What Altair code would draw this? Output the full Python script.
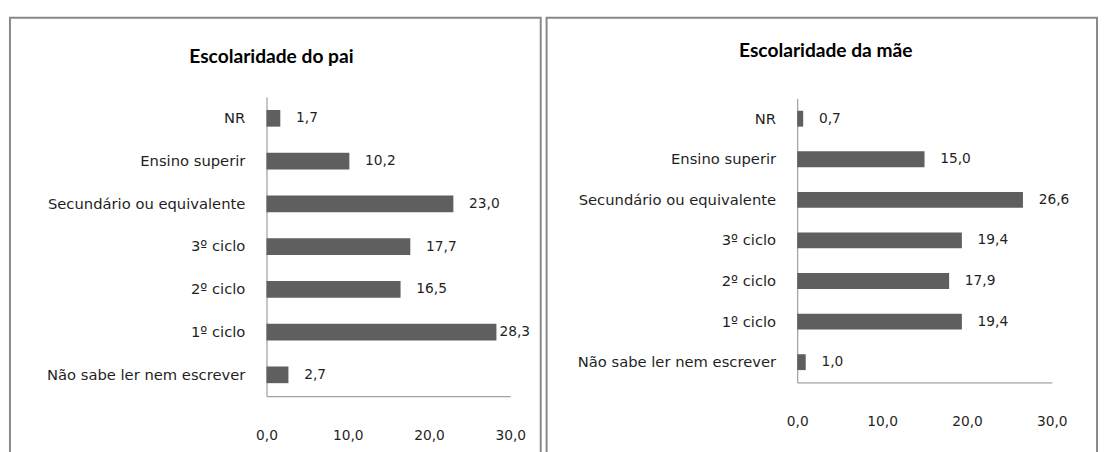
import altair as alt
import pandas as pd

categories = ["NR", "Ensino superir", "Secundário ou equivalente", "3º ciclo",
              "2º ciclo", "1º ciclo", "Não sabe ler nem escrever"]
pai_values = [1.7, 10.2, 23.0, 17.7, 16.5, 28.3, 2.7]
mae_values = [0.7, 15.0, 26.6, 19.4, 17.9, 19.4, 1.0]
x_ticks = [0, 10, 20, 30]
titles = ["Escolaridade do pai", "Escolaridade da mãe"]

FONT = "DejaVu Sans"
TITLE_FONT = "Lato"
BAR = "#5f5f5f"
TXT = "#1f1f1f"
AX = "#8a8a8a"


def fmt(v):
    return f"{v:.1f}".replace(".", ",")


def panel(values, title, W, H, xr, yr, title_offset, title_dx):
    df = pd.DataFrame({"cat": categories, "val": values,
                       "lab": [fmt(v) for v in values]})
    x = alt.X("val:Q",
              scale=alt.Scale(domain=[0, 30], range=xr, nice=False, zero=True),
              axis=alt.Axis(title=None, orient="bottom", offset=-(H - yr[1]),
                            values=x_ticks, format=".1f",
                            labelExpr="replace(datum.label, '.', ',')",
                            ticks=False, grid=False, domainColor=AX,
                            labelFlush=False, labelPadding=33,
                            labelFontSize=14, labelFont=FONT, labelColor=TXT))
    y = alt.Y("cat:N", sort=categories,
              scale=alt.Scale(range=yr, paddingInner=0.61, paddingOuter=0.305),
              axis=alt.Axis(title=None, orient="left", offset=-xr[0],
                            ticks=False, grid=False, domainColor=AX,
                            labelPadding=22, labelFontSize=15, labelFont=FONT,
                            labelColor=TXT, labelLimit=400))
    base = alt.Chart(df)
    bars = base.mark_bar(color=BAR).encode(x=x, y=y)
    enc = dict(x=alt.X("val:Q"), y=alt.Y("cat:N", sort=categories), text="lab:N")
    # labels placed outside the bar end; when it would not fit, pulled closer
    labels = base.transform_filter("datum.val <= 27").mark_text(
        align="left", baseline="middle", dx=16, fontSize=14, font=FONT,
        color=TXT).encode(**enc)
    labels_tight = base.transform_filter("datum.val > 27").mark_text(
        align="left", baseline="middle", dx=3, fontSize=14, font=FONT,
        color=TXT).encode(**enc)
    return alt.layer(bars, labels, labels_tight).properties(
        width=W, height=H,
        title=alt.TitleParams(title, offset=title_offset, dx=title_dx,
                              fontSize=19.5, font=TITLE_FONT, fontWeight="bold",
                              anchor="middle", color="#000000"))


left = panel(pai_values, titles[0], 540, 450, [261, 509], [80.5, 385], -50, -4)
right = panel(mae_values, titles[1], 560, 450, [255, 514], [82, 371], -44, 4)

chart = alt.hconcat(left, right, spacing=4).properties(
    padding={"left": 1, "top": 5, "right": 0, "bottom": 0},
    background="#ffffff",
).configure_view(stroke="#888888", strokeWidth=2)

chart.save("out.html", embed_options={"renderer": "svg", "actions": False})
